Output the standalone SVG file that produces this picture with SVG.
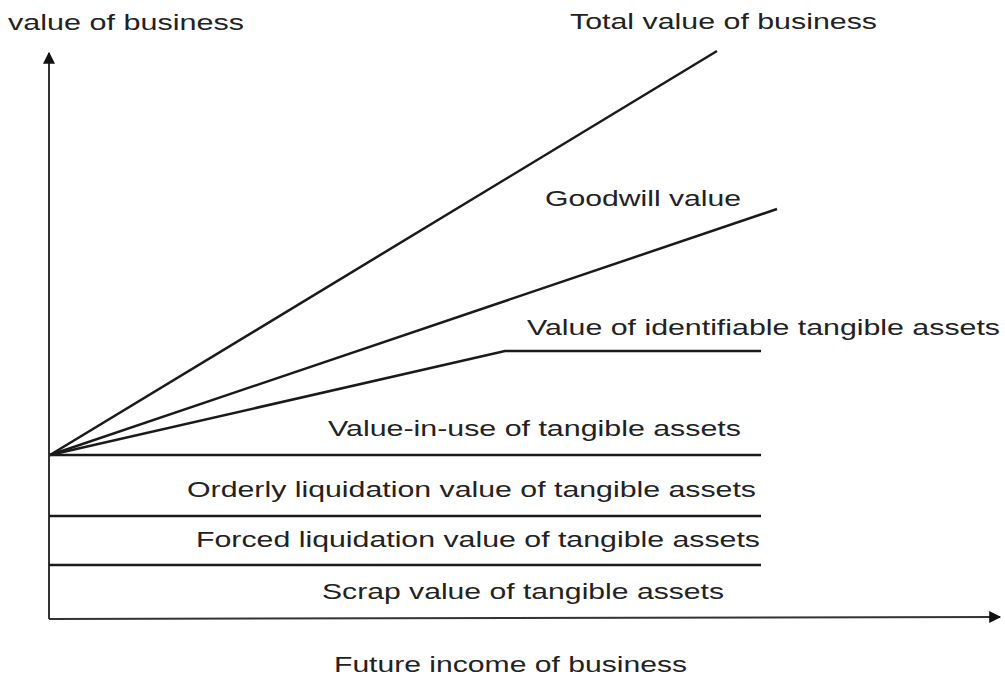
<svg xmlns="http://www.w3.org/2000/svg" width="1005" height="679" viewBox="0 0 1005 679">
<style>
text{font-family:"Liberation Sans",Arial,sans-serif;font-size:22px;fill:#222}
.ln{stroke:#1a1a1a;stroke-width:2.5;fill:none;stroke-linecap:butt}
.ax{stroke:#333;stroke-width:2;fill:none}
</style>
<defs>
<marker id="ah" viewBox="0 0 10 10" refX="9" refY="5" markerWidth="7" markerHeight="7" markerUnits="userSpaceOnUse" orient="auto">
<path d="M0,0 L10,5 L0,10 z" fill="#111"/>
</marker>
<marker id="ah2" viewBox="0 0 10 10" refX="9" refY="5" markerWidth="14" markerHeight="12" markerUnits="userSpaceOnUse" orient="auto">
<path d="M0,0 L10,5 L0,10 z" fill="#111"/>
</marker>
</defs>
<rect width="1005" height="679" fill="#fff"/>
<g id="axes">
<path class="ax" d="M49,619 L49,53" marker-end="url(#ah2)"/>
<path class="ax" d="M49,619 L1000,617" marker-end="url(#ah2)"/>
</g>
<g id="connectors">
<path class="ln" d="M50,455 L717,51"/>
<path class="ln" d="M50,455 L777,209"/>
<path class="ln" d="M50,455 L505,351 L761,351"/>
<path class="ln" d="M50,455 L761,455"/>
<path class="ln" d="M49,516 L761,516"/>
<path class="ln" d="M49,565 L761,565"/>
</g>
<g id="labels">
<text x="8" y="30" textLength="236" lengthAdjust="spacingAndGlyphs">value of business</text>
<text x="570" y="29" textLength="307" lengthAdjust="spacingAndGlyphs">Total value of business</text>
<text x="545" y="206" textLength="196" lengthAdjust="spacingAndGlyphs">Goodwill value</text>
<text x="527" y="335" textLength="473" lengthAdjust="spacingAndGlyphs">Value of identifiable tangible assets</text>
<text x="328" y="436" textLength="413" lengthAdjust="spacingAndGlyphs">Value-in-use of tangible assets</text>
<text x="187" y="497" textLength="569" lengthAdjust="spacingAndGlyphs">Orderly liquidation value of tangible assets</text>
<text x="196" y="547" textLength="564" lengthAdjust="spacingAndGlyphs">Forced liquidation value of tangible assets</text>
<text x="322" y="599" textLength="402" lengthAdjust="spacingAndGlyphs">Scrap value of tangible assets</text>
<text x="334" y="672" textLength="353" lengthAdjust="spacingAndGlyphs">Future income of business</text>
</g>
</svg>
